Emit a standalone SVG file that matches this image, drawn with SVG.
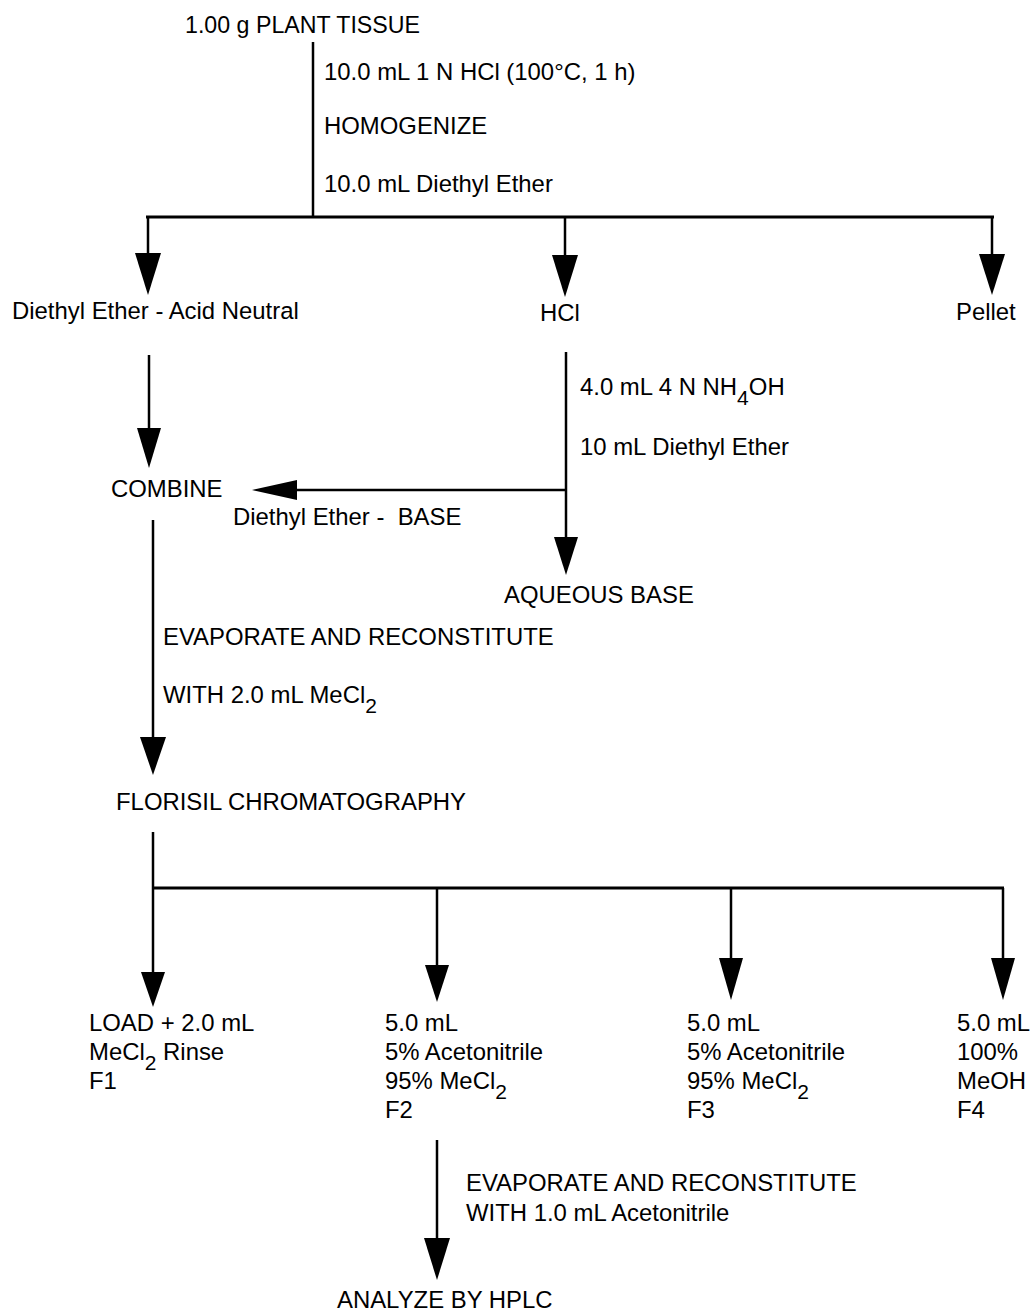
<svg xmlns="http://www.w3.org/2000/svg" width="1031" height="1312" viewBox="0 0 1031 1312">
<style>
text{font-family:"Liberation Sans",Arial,Helvetica,sans-serif;font-size:23.9px;fill:#000}
.title{font-size:23.2px}
.sub{font-size:21px}
.ln{stroke:#000;stroke-width:2.5;fill:none}
.bar{stroke:#000;stroke-width:3;fill:none}
.hd{fill:#000;stroke:none}
</style>
<rect width="1031" height="1312" fill="#fff"/>
<g id="connectors">
<line class="ln" x1="313" y1="42" x2="313" y2="217"/>
<line class="bar" x1="146" y1="217" x2="994" y2="217"/>
<line class="ln" x1="148" y1="217" x2="148" y2="260"/>
<polygon class="hd" points="135,253 161,253 148,295"/>
<line class="ln" x1="565" y1="217" x2="565" y2="260"/>
<polygon class="hd" points="552,255 578,255 565,297"/>
<line class="ln" x1="992" y1="217" x2="992" y2="260"/>
<polygon class="hd" points="979,254 1005,254 992,295"/>
<line class="ln" x1="149" y1="355" x2="149" y2="435"/>
<polygon class="hd" points="137,428 161,428 149,468"/>
<line class="ln" x1="566" y1="352" x2="566" y2="545"/>
<polygon class="hd" points="554,537 578,537 566,575"/>
<line class="ln" x1="566" y1="490" x2="290" y2="490"/>
<polygon class="hd" points="297,480 297,500 252,490"/>
<line class="ln" x1="153" y1="520" x2="153" y2="745"/>
<polygon class="hd" points="140,737 166,737 153,775"/>
<line class="ln" x1="153" y1="832" x2="153" y2="980"/>
<polygon class="hd" points="141,972 165,972 153,1007"/>
<line class="bar" x1="152" y1="888" x2="1004" y2="888"/>
<line class="ln" x1="437" y1="888" x2="437" y2="970"/>
<polygon class="hd" points="425,965 449,965 437,1002"/>
<line class="ln" x1="731" y1="888" x2="731" y2="965"/>
<polygon class="hd" points="719,958 743,958 731,1000"/>
<line class="ln" x1="1003" y1="888" x2="1003" y2="965"/>
<polygon class="hd" points="991,958 1015,958 1003,1000"/>
<line class="ln" x1="437" y1="1140" x2="437" y2="1245"/>
<polygon class="hd" points="424,1238 450,1238 437,1280"/>
</g>
<g id="n-plant"><text class="title" x="185" y="33">1.00 g PLANT TISSUE</text></g>
<g id="n-step1">
<text x="324" y="80">10.0 mL 1 N HCl (100°C, 1 h)</text>
<text x="324" y="134">HOMOGENIZE</text>
<text x="324" y="192">10.0 mL Diethyl Ether</text>
</g>
<g id="n-ether-acid"><text x="12" y="319">Diethyl Ether - Acid Neutral</text></g>
<g id="n-hcl"><text x="540" y="321">HCl</text></g>
<g id="n-pellet"><text x="956" y="320">Pellet</text></g>
<g id="n-step2">
<text x="580" y="395">4.0 mL 4 N NH<tspan class="sub" dy="10">4</tspan><tspan dy="-10">OH</tspan></text>
<text x="580" y="455">10 mL Diethyl Ether</text>
</g>
<g id="n-combine"><text x="111" y="497">COMBINE</text></g>
<g id="n-ether-base"><text x="233" y="525" xml:space="preserve">Diethyl Ether -  BASE</text></g>
<g id="n-aqueous"><text x="504" y="603">AQUEOUS BASE</text></g>
<g id="n-step3">
<text x="163" y="645">EVAPORATE AND RECONSTITUTE</text>
<text x="163" y="703">WITH 2.0 mL MeCl<tspan class="sub" dy="10">2</tspan></text>
</g>
<g id="n-florisil"><text x="116" y="810">FLORISIL CHROMATOGRAPHY</text></g>
<g id="n-f1">
<text x="89" y="1031">LOAD + 2.0 mL</text>
<text x="89" y="1060">MeCl<tspan class="sub" dy="10">2</tspan><tspan dy="-10"> Rinse</tspan></text>
<text x="89" y="1089">F1</text>
</g>
<g id="n-f2">
<text x="385" y="1031">5.0 mL</text>
<text x="385" y="1060">5% Acetonitrile</text>
<text x="385" y="1089">95% MeCl<tspan class="sub" dy="10">2</tspan></text>
<text x="385" y="1118">F2</text>
</g>
<g id="n-f3">
<text x="687" y="1031">5.0 mL</text>
<text x="687" y="1060">5% Acetonitrile</text>
<text x="687" y="1089">95% MeCl<tspan class="sub" dy="10">2</tspan></text>
<text x="687" y="1118">F3</text>
</g>
<g id="n-f4">
<text x="957" y="1031">5.0 mL</text>
<text x="957" y="1060">100%</text>
<text x="957" y="1089">MeOH</text>
<text x="957" y="1118">F4</text>
</g>
<g id="n-step4">
<text x="466" y="1191">EVAPORATE AND RECONSTITUTE</text>
<text x="466" y="1221">WITH 1.0 mL Acetonitrile</text>
</g>
<g id="n-hplc"><text x="337" y="1308">ANALYZE BY HPLC</text></g>
</svg>
